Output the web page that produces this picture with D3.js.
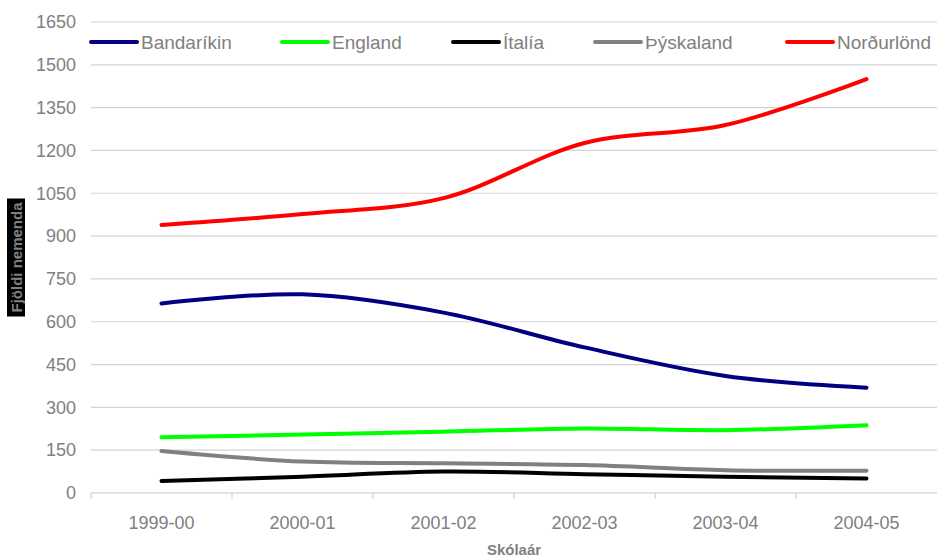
<!DOCTYPE html>
<html>
<head>
<meta charset="utf-8">
<script src="https://cdn.jsdelivr.net/npm/d3@7"></script>
<style>
    body { margin: 0; background: #fff; }
    text { font-family: "Liberation Sans", Arial, sans-serif; }
</style>
</head>
<body>
<div id="chart"></div>
<script>
// data
const years = ['1999-00', '2000-01', '2001-02', '2002-03', '2003-04', '2004-05'];
const bandarikin = [664, 696, 632, 510, 410, 369];
const england = [195, 205, 215, 226, 220, 237];
const italia = [42, 57, 75, 66, 57, 51];
const thyskaland = [147, 110, 104, 98, 80, 78];
const nordurlond = [939, 977, 1033, 1226, 1289, 1450];
const yTicks = [0, 150, 300, 450, 600, 750, 900, 1050, 1200, 1350, 1500, 1650];

const series = [
    {name: 'Bandaríkin', values: bandarikin, color: '#000080'},
    {name: 'England', values: england, color: '#00ff00'},
    {name: 'Ítalía', values: italia, color: '#000000'},
    {name: 'Þýskaland', values: thyskaland, color: '#808080'},
    {name: 'Norðurlönd', values: nordurlond, color: '#ff0000'}
];

const margin = {top: 22, right: 1, bottom: 65, left: 91};
const width = 938 - margin.left - margin.right,
    height = 558 - margin.top - margin.bottom;

const svg = d3.select('#chart').append('svg')
    .attr('width', 938)
    .attr('height', 558)
    .append('g')
    .attr('transform', 'translate(' + margin.left + ',' + margin.top + ')');

const x = d3.scaleBand().domain(years).range([0, width]);
const y = d3.scaleLinear().domain([0, 1650]).range([height, 0]);

// gridlines
svg.selectAll('.grid')
    .data(yTicks.filter(d => d > 0))
    .enter()
    .append('line')
    .attr('x1', 0)
    .attr('x2', width)
    .attr('y1', d => y(d))
    .attr('y2', d => y(d))
    .style('stroke', '#d4d4d4')
    .style('stroke-width', 1.2);

// y labels
svg.selectAll('.ylab')
    .data(yTicks)
    .enter()
    .append('text')
    .attr('x', -15)
    .attr('y', d => y(d))
    .attr('dy', '0.35em')
    .style('text-anchor', 'end')
    .style('font-size', '18px')
    .style('fill', '#808080')
    .text(d => d);

// x axis
const xAxis = svg.append('g')
    .attr('transform', 'translate(0,' + height + ')');
xAxis.append('line')
    .attr('x1', 0)
    .attr('x2', width)
    .style('stroke', '#c8c8c8')
    .style('stroke-width', 1.2);
xAxis.selectAll('.tick')
    .data(years)
    .enter()
    .append('line')
    .attr('x1', d => x(d))
    .attr('x2', d => x(d))
    .attr('y1', 0)
    .attr('y2', 6)
    .style('stroke', '#c8c8c8');
xAxis.selectAll('.xlab')
    .data(years)
    .enter()
    .append('text')
    .attr('x', d => x(d) + x.bandwidth() / 2)
    .attr('y', 36)
    .style('text-anchor', 'middle')
    .style('font-size', '18px')
    .style('fill', '#808080')
    .text(d => d);

// axis titles
svg.append('text')
    .attr('x', width / 2)
    .attr('y', height + 62)
    .style('text-anchor', 'middle')
    .style('font-size', '15px')
    .style('font-weight', 'bold')
    .style('fill', '#808080')
    .text('Skólaár');

const yTitle = svg.append('g')
    .attr('transform', 'translate(' + (-74) + ',' + (height / 2) + ') rotate(-90)');
yTitle.append('rect')
    .attr('x', -59)
    .attr('y', -10)
    .attr('width', 118)
    .attr('height', 18)
    .style('fill', '#000');
yTitle.append('text')
    .attr('x', 0)
    .attr('y', 5)
    .style('text-anchor', 'middle')
    .style('font-size', '15px')
    .style('font-weight', 'bold')
    .style('fill', '#808080')
    .text('Fjöldi nemenda');

// lines
const line = d3.line()
    .x((d, i) => x(years[i]) + x.bandwidth() / 2)
    .y(d => y(d))
    .curve(d3.curveCatmullRom.alpha(0.5));

svg.selectAll('.series')
    .data(series)
    .enter()
    .append('path')
    .attr('d', d => line(d.values))
    .style('fill', 'none')
    .style('stroke', d => d.color)
    .style('stroke-width', 4)
    .style('stroke-linecap', 'round')
    .style('stroke-linejoin', 'round');

// legend
const legendX = [0, 191, 362, 504, 696];
const legend = svg.selectAll('.legend')
    .data(series)
    .enter()
    .append('g')
    .attr('transform', (d, i) => 'translate(' + legendX[i] + ',' + 20 + ')');
legend.append('line')
    .attr('x1', 0)
    .attr('x2', 46)
    .style('stroke', d => d.color)
    .style('stroke-width', 4)
    .style('stroke-linecap', 'round');
legend.append('text')
    .attr('x', 50)
    .attr('dy', '0.35em')
    .style('font-size', '19px')
    .style('fill', '#808080')
    .text(d => d.name);
</script>
</body>
</html>
